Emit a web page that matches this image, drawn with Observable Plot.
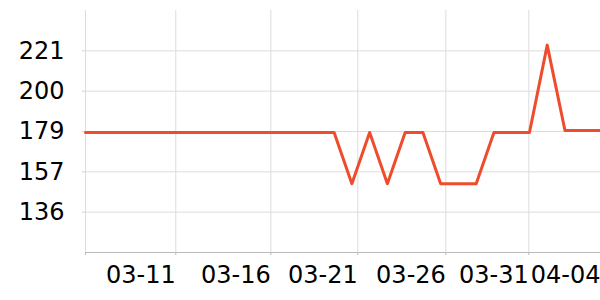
<!DOCTYPE html>
<html>
<head>
<meta charset="utf-8">
<script src="https://cdn.jsdelivr.net/npm/d3@7"></script>
<script src="https://cdn.jsdelivr.net/npm/@observablehq/plot@0.6"></script>
<style>
  html, body { margin: 0; padding: 0; background: #fff; }
</style>
</head>
<body>
<div id="chart"></div>
<script>
const dates = [
  "2024-03-06","2024-03-07","2024-03-08","2024-03-09","2024-03-10","2024-03-11","2024-03-12","2024-03-13","2024-03-14","2024-03-15",
  "2024-03-16","2024-03-17","2024-03-18","2024-03-19","2024-03-20","2024-03-21","2024-03-22","2024-03-23","2024-03-24","2024-03-25",
  "2024-03-26","2024-03-27","2024-03-28","2024-03-29","2024-03-30","2024-03-31","2024-04-01","2024-04-02","2024-04-03","2024-04-04"
];
const values = [
  178,178,178,178,178,178,178,178,178,178,
  178,178,178,178,178,151,178,151,178,178,
  151,151,151,178,178,178,224,179,179,179
];
// x-axis tick times and their labels
const gridTimes = ["2024-03-06T00:00Z","2024-03-11T02:00Z","2024-03-16T10:25Z","2024-03-21T08:00Z","2024-03-26T07:00Z","2024-03-30T23:05Z"];
const labelTimes = ["2024-03-11T02:00Z","2024-03-16T10:25Z","2024-03-21T08:00Z","2024-03-26T07:00Z","2024-03-30T23:05Z","2024-04-04T00:00Z"];
const labelNames = ["03-11","03-16","03-21","03-26","03-31","04-04"];
const yTicks = [136, 157.25, 178.5, 199.75, 221];
const yDomain = [114.75, 242.25];

const parse = s => new Date(s.length === 10 ? s + "T00:00Z" : s);
const data = dates.map((d, i) => ({date: parse(d), value: values[i]}));
const gridT = gridTimes.map(parse);
const labelT = labelTimes.map(parse);
const labelFor = new Map(labelT.map((t, i) => [+t, labelNames[i]]));

const chart = Plot.plot({
  width: 600,
  height: 300,
  marginLeft: 85,
  marginRight: 0,
  marginTop: 10,
  marginBottom: 48,
  style: {fontFamily: "DejaVu Sans", fontSize: "24px", color: "#000", background: "#fff"},
  x: {type: "utc", domain: [data[0].date, data[data.length - 1].date]},
  y: {domain: yDomain},
  marks: [
    Plot.gridY(yTicks, {stroke: "#dcdcdc", strokeOpacity: 1, strokeWidth: 1}),
    Plot.gridX(gridT, {stroke: "#dcdcdc", strokeOpacity: 1, strokeWidth: 1}),
    Plot.axisY(yTicks, {tickSize: 3, tickPadding: 18, tickFormat: d => String(Math.round(d)),
      stroke: "#d0d0d0", strokeOpacity: 1, fill: "#000", fontSize: 24, label: null}),
    Plot.ruleY([yDomain[0]], {stroke: "#bbbbbb", strokeWidth: 1}),
    Plot.axisX(gridT, {tickSize: 3, stroke: "#bbbbbb", strokeOpacity: 1, text: null, label: null}),
    Plot.axisX(labelT, {tickSize: 0, tickPadding: 13, textAnchor: "end", tickFormat: d => labelFor.get(+d),
      fill: "#000", fontSize: 24, label: null}),
    Plot.line(data, {x: "date", y: "value", stroke: "#ee4c2c", strokeWidth: 3})
  ]
});
document.getElementById("chart").appendChild(chart);
</script>
</body>
</html>
